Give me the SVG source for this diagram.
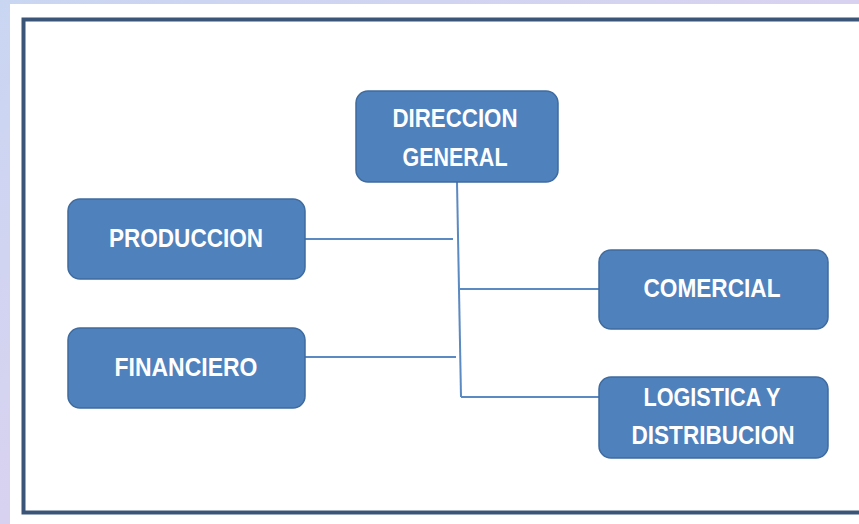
<svg xmlns="http://www.w3.org/2000/svg" width="859" height="524" viewBox="0 0 859 524">
<defs>
<linearGradient id="bg" x1="0" y1="0" x2="1" y2="1">
<stop offset="0" stop-color="#c9d6f2"/>
<stop offset="0.5" stop-color="#d8d2f0"/>
<stop offset="1" stop-color="#c4d8f4"/>
</linearGradient>
</defs>
<style>
.box{fill:#4f81bd;stroke:#3f6b9e;stroke-width:1.5}
.lbl{font-family:"Liberation Sans",Arial,sans-serif;font-weight:bold;font-size:25px;fill:#ffffff;text-anchor:middle;dominant-baseline:central}
.con{stroke:#5b89c2;stroke-width:2;fill:none}
</style>
<rect x="0" y="0" width="859" height="524" fill="url(#bg)"/>
<rect x="10" y="4" width="849" height="520" fill="#ffffff"/>
<rect x="23.5" y="19.5" width="900" height="493" fill="none" stroke="#3a5578" stroke-width="4"/>
<g id="connectors">
<line class="con" x1="457" y1="182" x2="461" y2="397"/>
<line class="con" x1="305" y1="239" x2="453" y2="239"/>
<line class="con" x1="460" y1="289" x2="600" y2="289"/>
<line class="con" x1="305" y1="357" x2="456" y2="357"/>
<line class="con" x1="461" y1="397" x2="600" y2="397"/>
</g>
<g id="direccion">
<rect class="box" x="356" y="91" width="202" height="91" rx="12"/>
<text class="lbl" x="455" y="118" textLength="125" lengthAdjust="spacingAndGlyphs">DIRECCION</text>
<text class="lbl" x="455" y="157" textLength="105" lengthAdjust="spacingAndGlyphs">GENERAL</text>
</g>
<g id="produccion">
<rect class="box" x="68" y="199" width="237" height="80" rx="12"/>
<text class="lbl" x="186" y="238" textLength="154" lengthAdjust="spacingAndGlyphs">PRODUCCION</text>
</g>
<g id="financiero">
<rect class="box" x="68" y="328" width="237" height="80" rx="12"/>
<text class="lbl" x="186" y="367" textLength="143" lengthAdjust="spacingAndGlyphs">FINANCIERO</text>
</g>
<g id="comercial">
<rect class="box" x="599" y="250" width="229" height="79" rx="12"/>
<text class="lbl" x="712" y="288" textLength="137" lengthAdjust="spacingAndGlyphs">COMERCIAL</text>
</g>
<g id="logistica">
<rect class="box" x="599" y="377" width="229" height="81" rx="12"/>
<text class="lbl" x="712" y="397" textLength="137" lengthAdjust="spacingAndGlyphs">LOGISTICA Y</text>
<text class="lbl" x="713" y="435" textLength="163" lengthAdjust="spacingAndGlyphs">DISTRIBUCION</text>
</g>
</svg>
